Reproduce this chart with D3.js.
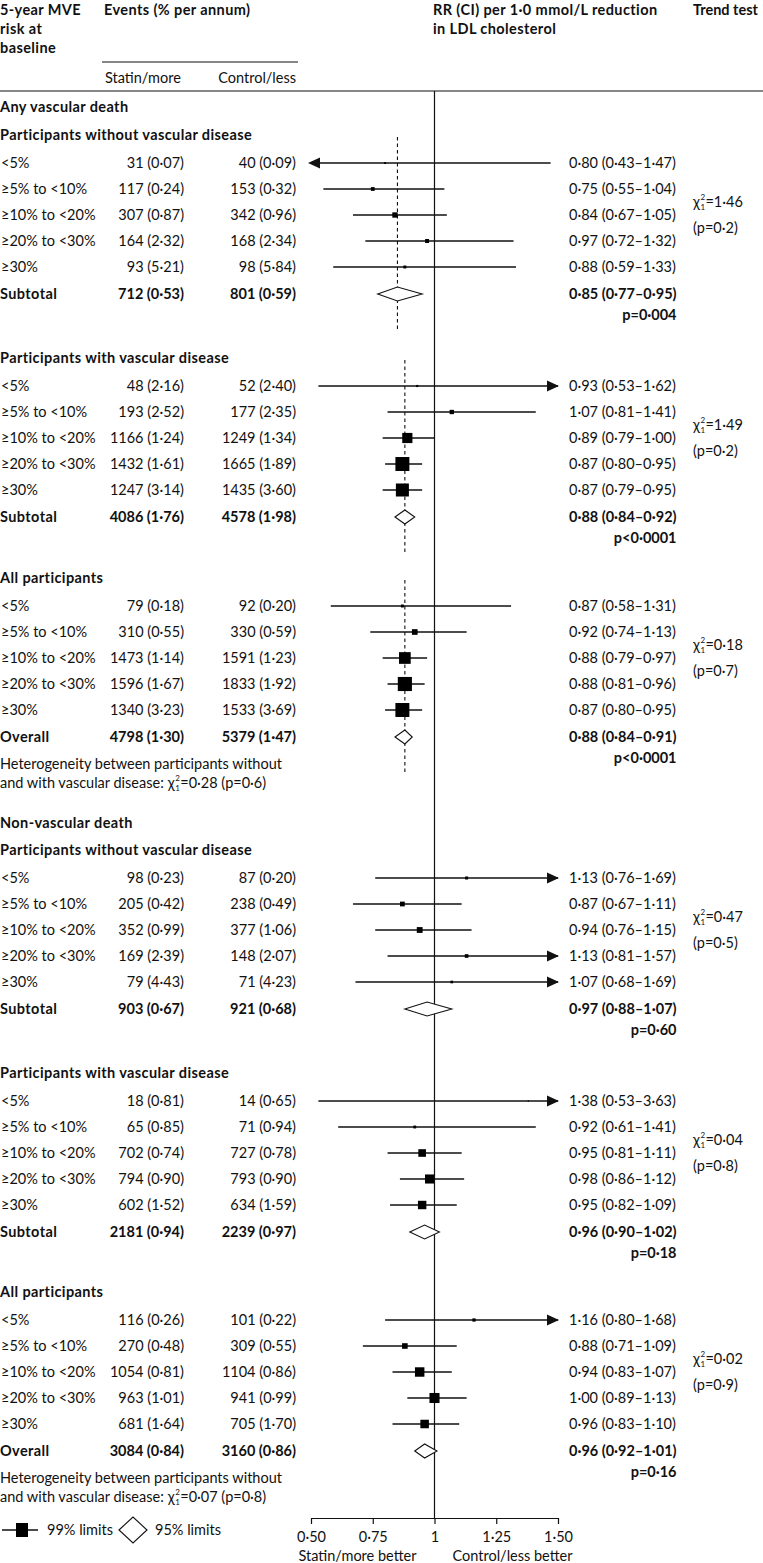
<!DOCTYPE html>
<html>
<head>
<meta charset="utf-8">
<script src="https://cdn.jsdelivr.net/npm/d3@7"></script>
<style>
body { margin: 0; background: #fff; }
text { font-family: Lato, "Noto Sans", sans-serif; font-size: 14.5px; fill: #111; }
.bold { font-weight: bold; }
.head { font-weight: bold; letter-spacing: 0.4px; }
</style>
</head>
<body>
<div id="chart"></div>
<script>

// ---- data ----
let risk_groups = ["<5%", "≥5% to <10%", "≥10% to <20%", "≥20% to <30%", "≥30%"];
let group_titles = ["Any vascular death", "Non-vascular death"];
let section_titles = ["Participants without vascular disease", "Participants with vascular disease", "All participants",
                      "Participants without vascular disease", "Participants with vascular disease", "All participants"];
let total_labels = ["Subtotal", "Subtotal", "Overall", "Subtotal", "Subtotal", "Overall"];

let statin_events = [[31, 117, 307, 164, 93], [48, 193, 1166, 1432, 1247], [79, 310, 1473, 1596, 1340],
                     [98, 205, 352, 169, 79], [18, 65, 702, 794, 602], [116, 270, 1054, 963, 681]];
let statin_rates = [[0.07, 0.24, 0.87, 2.32, 5.21], [2.16, 2.52, 1.24, 1.61, 3.14], [0.18, 0.55, 1.14, 1.67, 3.23],
                    [0.23, 0.42, 0.99, 2.39, 4.43], [0.81, 0.85, 0.74, 0.90, 1.52], [0.26, 0.48, 0.81, 1.01, 1.64]];
let control_events = [[40, 153, 342, 168, 98], [52, 177, 1249, 1665, 1435], [92, 330, 1591, 1833, 1533],
                      [87, 238, 377, 148, 71], [14, 71, 727, 793, 634], [101, 309, 1104, 941, 705]];
let control_rates = [[0.09, 0.32, 0.96, 2.34, 5.84], [2.40, 2.35, 1.34, 1.89, 3.60], [0.20, 0.59, 1.23, 1.92, 3.69],
                     [0.20, 0.49, 1.06, 2.07, 4.23], [0.65, 0.94, 0.78, 0.90, 1.59], [0.22, 0.55, 0.86, 0.99, 1.70]];

let rr_est = [[0.80, 0.75, 0.84, 0.97, 0.88], [0.93, 1.07, 0.89, 0.87, 0.87], [0.87, 0.92, 0.88, 0.88, 0.87],
              [1.13, 0.87, 0.94, 1.13, 1.07], [1.38, 0.92, 0.95, 0.98, 0.95], [1.16, 0.88, 0.94, 1.00, 0.96]];
let rr_low = [[0.43, 0.55, 0.67, 0.72, 0.59], [0.53, 0.81, 0.79, 0.80, 0.79], [0.58, 0.74, 0.79, 0.81, 0.80],
              [0.76, 0.67, 0.76, 0.81, 0.68], [0.53, 0.61, 0.81, 0.86, 0.82], [0.80, 0.71, 0.83, 0.89, 0.83]];
let rr_high = [[1.47, 1.04, 1.05, 1.32, 1.33], [1.62, 1.41, 1.00, 0.95, 0.95], [1.31, 1.13, 0.97, 0.96, 0.95],
               [1.69, 1.11, 1.15, 1.57, 1.69], [3.63, 1.41, 1.11, 1.12, 1.09], [1.68, 1.09, 1.07, 1.13, 1.10]];

let total_statin_events = [712, 4086, 4798, 903, 2181, 3084];
let total_statin_rates = [0.53, 1.76, 1.30, 0.67, 0.94, 0.84];
let total_control_events = [801, 4578, 5379, 921, 2239, 3160];
let total_control_rates = [0.59, 1.98, 1.47, 0.68, 0.97, 0.86];
let total_rr = [0.85, 0.88, 0.88, 0.97, 0.96, 0.96];
let total_low = [0.77, 0.84, 0.84, 0.88, 0.90, 0.92];
let total_high = [0.95, 0.92, 0.91, 1.07, 1.02, 1.01];
let total_p = ["=0·004", "<0·0001", "<0·0001", "=0·60", "=0·18", "=0·16"];

let trend_chi = [1.46, 1.49, 0.18, 0.47, 0.04, 0.02];
let trend_p = [0.2, 0.2, 0.7, 0.5, 0.8, 0.9];
let hetero_chi = [0.28, 0.07];
let hetero_p = [0.6, 0.8];

let axis_ticks = [0.5, 0.75, 1, 1.25, 1.5];
let axis_labels = ["0·50", "0·75", "1", "1·25", "1·50"];

// ---- layout ----
let chart_width = 763;
let chart_height = 1563;
let section_y = [135, 358, 578, 850, 1073, 1292];
let group_y = [107, 823];
let row_step = 26;
let axis_y = 1518;
let ink = "#111";

let fmt2 = v => d3.format(".2f")(v).replace(".", "·");
let fmt1 = v => d3.format(".1f")(v).replace(".", "·");

let svg = d3.select("#chart")
            .append("svg")
            .attr("width", chart_width)
            .attr("height", chart_height);

let xScale = d3.scaleLinear()
               .domain([0.5, 1.5])
               .range([311, 558]);

// box side proportional to 1/SE (from CI width)
let box_scale = d3.scaleLinear().domain([0, 1]).range([0, 2.4]);

function add_text(x, y, str, cls, anchor) {
    return svg.append("text")
              .attr("x", x)
              .attr("y", y)
              .attr("dy", "0.35em")
              .attr("class", cls || null)
              .attr("text-anchor", anchor || "start")
              .text(str);
}

// chi-square with stacked super/sub script
function add_chi(x, y, tail) {
    let chi = add_text(x, y, "χ");
    let w = chi.node().getComputedTextLength();
    svg.append("text").attr("x", x + w + 0.5).attr("y", y - 2).style("font-size", "8px").text("2");
    svg.append("text").attr("x", x + w + 0.5).attr("y", y + 8).style("font-size", "8px").text("1");
    add_text(x + w + 5.5, y, tail);
}

// ---- header ----
add_text(0, 10, "5-year MVE", "head");
add_text(0, 29, "risk at", "head");
add_text(0, 48, "baseline", "head");
add_text(104, 10, "Events (% per annum)", "head");
add_text(105, 78, "Statin/more");
add_text(296, 78, "Control/less", null, "end");
add_text(433, 10, "RR (CI) per 1·0 mmol/L reduction", "head");
add_text(433, 29, "in LDL cholesterol", "head");
add_text(693, 10, "Trend test", "bold");

svg.append("line").attr("x1", 102).attr("x2", 298).attr("y1", 62).attr("y2", 62)
   .attr("stroke", ink).attr("stroke-width", 1.2);
svg.append("line").attr("x1", 0).attr("x2", chart_width).attr("y1", 91).attr("y2", 91)
   .attr("stroke", ink).attr("stroke-width", 1.2);

// line of no effect
svg.append("line")
   .attr("x1", xScale(1)).attr("x2", xScale(1))
   .attr("y1", 91).attr("y2", axis_y)
   .attr("stroke", ink).attr("stroke-width", 1.2);

for (let g = 0; g < group_titles.length; g++) {
    add_text(0, group_y[g], group_titles[g], "head");
}

for (let s = 0; s < section_titles.length; s++) {

    let sy = section_y[s];
    let total_y = sy + 28 + row_step * 5 + 1;

    add_text(0, sy, section_titles[s], "head");

    // dashed overall line for vascular death sections
    if (s < 3) {
        svg.append("line")
           .attr("x1", xScale(total_rr[s])).attr("x2", xScale(total_rr[s]))
           .attr("y1", sy + 2).attr("y2", total_y + 36)
           .attr("stroke", ink)
           .attr("stroke-width", 1.1)
           .attr("stroke-dasharray", "3.5,3");
    }

    for (let i = 0; i < risk_groups.length; i++) {
        let y = sy + 28 + row_step * i;
        let lo = rr_low[s][i], hi = rr_high[s][i], est = rr_est[s][i];

        add_text(1, y, risk_groups[i]);
        add_text(184, y, statin_events[s][i] + " (" + fmt2(statin_rates[s][i]) + ")", null, "end");
        add_text(296, y, control_events[s][i] + " (" + fmt2(control_rates[s][i]) + ")", null, "end");
        add_text(569, y, fmt2(est) + " (" + fmt2(lo) + "–" + fmt2(hi) + ")");

        let x_left = xScale(Math.max(lo, 0.5));
        let x_right = xScale(Math.min(hi, 1.5));
        if (lo < 0.5) {
            svg.append("path")
               .attr("d", d3.line()([[x_left - 3, y], [x_left + 9, y - 5.5], [x_left + 9, y + 5.5]]) + "Z")
               .attr("fill", ink);
        }
        if (hi > 1.5) {
            svg.append("path")
               .attr("d", d3.line()([[x_right + 1, y], [x_right - 11, y - 5.5], [x_right - 11, y + 5.5]]) + "Z")
               .attr("fill", ink);
        }
        svg.append("line")
           .attr("x1", x_left).attr("x2", x_right)
           .attr("y1", y).attr("y2", y)
           .attr("stroke", ink)
           .attr("stroke-width", 1.3);

        let side = Math.max(box_scale(1 / Math.log(hi / lo)), 1.2);
        svg.append("rect")
           .attr("x", xScale(est) - side / 2)
           .attr("y", y - side / 2)
           .attr("width", side)
           .attr("height", side)
           .attr("fill", "#000");
    }

    // subtotal / overall row
    add_text(0, total_y, total_labels[s], "head");
    add_text(184, total_y, total_statin_events[s] + " (" + fmt2(total_statin_rates[s]) + ")", "bold", "end");
    add_text(296, total_y, total_control_events[s] + " (" + fmt2(total_control_rates[s]) + ")", "bold", "end");
    let rr_txt = add_text(569, total_y, fmt2(total_rr[s]) + " (" + fmt2(total_low[s]) + "–" + fmt2(total_high[s]) + ")", "bold");
    let rr_w = rr_txt.node().getComputedTextLength();
    add_text(569 + rr_w, total_y + 21, "p" + total_p[s], "bold", "end");

    let cx = xScale(total_rr[s]);
    svg.append("path")
       .attr("d", d3.line()([[xScale(total_low[s]), total_y], [cx, total_y - 7],
                             [xScale(total_high[s]), total_y], [cx, total_y + 7]]) + "Z")
       .attr("fill", "#fff")
       .attr("stroke", ink)
       .attr("stroke-width", 1.1);

    // trend test
    let mid_y = sy + 28 + row_step * 2;
    add_chi(693, mid_y - 13, "=" + fmt2(trend_chi[s]));
    add_text(693, mid_y + 13, "(p=" + fmt1(trend_p[s]) + ")");

    // heterogeneity note
    if (s === 2 || s === 5) {
        let h = s === 2 ? 0 : 1;
        add_text(0, total_y + 27, "Heterogeneity between participants without");
        let t = add_text(0, total_y + 46, "and with vascular disease:");
        let tw = t.node().getComputedTextLength();
        add_chi(tw + 4, total_y + 46, "=" + fmt2(hetero_chi[h]) + " (p=" + fmt1(hetero_p[h]) + ")");
    }
}

// ---- axis ----
let x_axis = svg.append("g")
                .attr("transform", "translate(0," + axis_y + ")")
                .call(d3.axisBottom(xScale)
                        .tickValues(axis_ticks)
                        .tickFormat((d, i) => axis_labels[i])
                        .tickSize(6)
                        .tickSizeOuter(0)
                        .tickPadding(8));
x_axis.attr("font-family", null).attr("font-size", null);
x_axis.selectAll("path, line").attr("stroke", ink).attr("stroke-width", 1.2);
x_axis.selectAll("text").attr("fill", ink).style("font-size", "14.5px");

add_text(xScale(1) - 18, 1556, "Statin/more better", null, "end");
add_text(xScale(1) + 18, 1556, "Control/less better");

// ---- legend ----
svg.append("line").attr("x1", 2).attr("x2", 38).attr("y1", 1530).attr("y2", 1530)
   .attr("stroke", ink).attr("stroke-width", 1.3);
svg.append("rect").attr("x", 16).attr("y", 1523).attr("width", 12).attr("height", 14).attr("fill", "#000");
add_text(47, 1530, "99% limits");
svg.append("path")
   .attr("d", d3.line()([[119, 1530], [133, 1517], [147, 1530], [133, 1543]]) + "Z")
   .attr("fill", "#fff").attr("stroke", ink).attr("stroke-width", 1.1);
add_text(155, 1530, "95% limits");

</script>
</body>
</html>
